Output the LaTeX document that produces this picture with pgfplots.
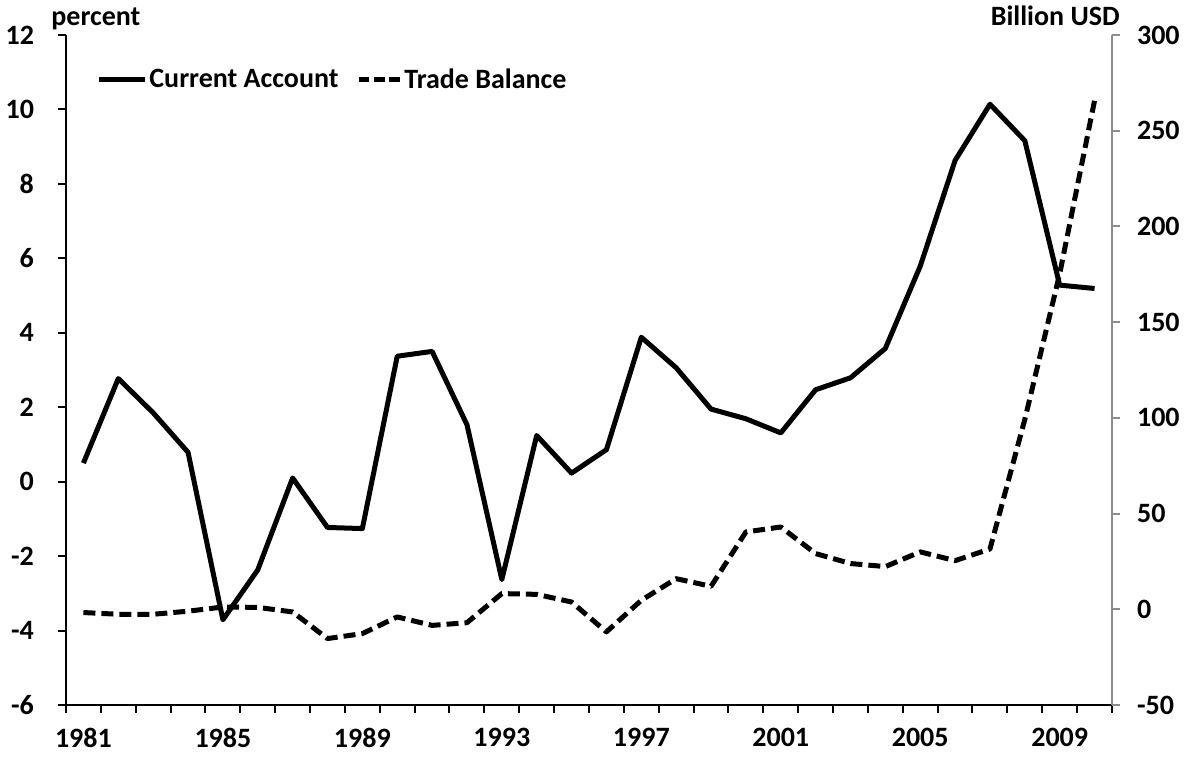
\documentclass[border=0pt]{standalone}
\usepackage{pgfplots}
\pgfplotsset{compat=1.18}
\usepackage{fontspec}
\setmainfont{Carlito}

\pgfplotstableread{
year ca
1981 0.50
1982 2.77
1983 1.85
1984 0.79
1985 -3.71
1986 -2.37
1987 0.10
1988 -1.23
1989 -1.26
1990 3.37
1991 3.50
1992 1.53
1993 -2.63
1994 1.24
1995 0.23
1996 0.86
1997 3.88
1998 3.06
1999 1.95
2000 1.69
2001 1.31
2002 2.47
2003 2.79
2004 3.58
2005 5.79
2006 8.63
2007 10.14
2008 9.16
2009 5.28
2010 5.19
}\catable

\pgfplotstableread{
year tb
1981 -1.7
1982 -2.6
1983 -2.6
1984 -1.0
1985 1.2
1986 1.0
1987 -1.4
1988 -15.3
1989 -12.7
1990 -4.0
1991 -8.4
1992 -7.0
1993 8.2
1994 7.8
1995 3.8
1996 -11.8
1997 4.7
1998 16.0
1999 12.0
2000 40.4
2001 43.0
2002 29.1
2003 23.9
2004 22.3
2005 30.0
2006 25.4
2007 31.5
2008 99.2
2009 175.3
2010 265.8
}\tbtable

\newcommand{\chartfont}{\fontsize{14}{16}\selectfont\bfseries}

\begin{document}
\begin{tikzpicture}
\pgfplotsset{
  every axis/.append style={
    scale only axis, width=523pt, height=335pt,
    xmin=1980.5, xmax=2010.5,
    at={(0,0)}, anchor=south west,
    clip=false,
    tick label style={font=\chartfont},
    /pgf/number format/assume math mode=true,
    /pgf/number format/1000 sep={},
    tick align=outside,
    major tick length=4pt,
  }
}
\begin{axis}[
  axis x line*=bottom, axis y line*=left,
  axis line style={line width=1pt, black},
  ymin=-6, ymax=12, ytick={-6,-4,...,12},
  ytick style={line width=1pt, black},
  yticklabel style={xshift=-8.5pt},
  xtick={1980.5,1981.5,...,2010.5},
  xticklabels={},
  xtick style={line width=1pt, black},
  extra x ticks={1981,1985,1989,1993,1997,2001,2005,2009},
  extra x tick labels={1981,1985,1989,1993,1997,2001,2005,2009},
  extra x tick style={tick style={draw=none}},
  xticklabel style={yshift=-4pt},
  legend style={draw=none, fill=none, inner sep=0pt,
    at={(axis description cs:0.0287,0.933)}, anchor=west,
    font=\chartfont,
    nodes={inner sep=1pt},
    /tikz/every odd column/.append style={column sep=0pt},
    /tikz/every even column/.append style={column sep=8pt}},
  legend columns=2,
]
\addplot[black, line width=2.5pt, line join=round,
  legend image code/.code={\draw[black, line width=2.5pt] (0pt,0pt) -- (23pt,0pt);}]
  table[x=year, y=ca] {\catable};
\addlegendentry{Current Account}
\addlegendimage{legend image code/.code={\draw[black, line width=2.5pt, dash pattern=on 5.2pt off 2.4pt] (0pt,0pt) -- (20.4pt,0pt);}}
\addlegendentry{Trade Balance}
\node[font=\chartfont, anchor=base west, inner sep=0pt] at (rel axis cs:0,1) [xshift=-7.5pt, yshift=5pt] {percent};
\end{axis}
\begin{axis}[
  axis x line=none, axis y line*=right,
  axis line style={line width=1pt, gray!90},
  ymin=-50, ymax=300, ytick={-50,0,...,300},
  ytick style={line width=1pt, gray!90},
  yticklabel style={black, xshift=5pt},
]
\addplot[black, line width=2.5pt, line join=round, dash pattern=on 6pt off 3pt] table[x=year, y=tb] {\tbtable};
\node[font=\chartfont, anchor=base east, inner sep=0pt] at (rel axis cs:1,1) [xshift=4pt, yshift=5pt] {Billion USD};
\end{axis}
\pgfresetboundingbox
\path[use as bounding box] (-33pt,-28.5pt) rectangle (564pt,352.5pt);
\end{tikzpicture}
\end{document}
